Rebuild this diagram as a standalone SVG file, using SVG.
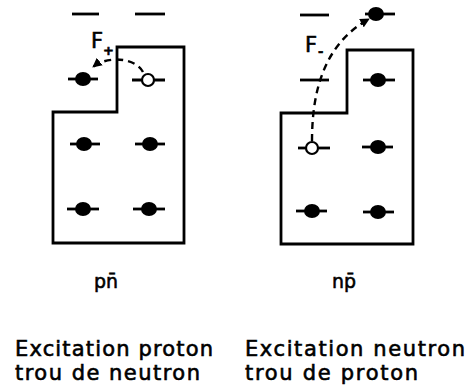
<svg xmlns="http://www.w3.org/2000/svg" width="470" height="392" viewBox="0 0 470 392">
<style>
.box{fill:none;stroke:#000;stroke-width:2.8;stroke-linejoin:miter}
.lvl{stroke:#000;stroke-width:2.8;fill:none}
.full{fill:#000}
.hole{fill:#fff;stroke:#000;stroke-width:2.2}
.dash{fill:none;stroke:#000;stroke-width:2.4;stroke-dasharray:7,5}
text{font-family:"DejaVu Sans","Liberation Sans",sans-serif;fill:#000;stroke:#000;stroke-width:0.6}
.cap{font-size:21px}
.lab{font-size:20px}
.f{font-size:21px}
.sub{font-size:13px;font-weight:bold}
</style>
<defs>
<marker id="ah" viewBox="0 0 10 10" refX="9" refY="5" markerWidth="4" markerHeight="4" orient="auto" markerUnits="strokeWidth">
<path d="M0,0 L10,5 L0,10 Z" fill="#000"/>
</marker>
</defs>

<g id="left-diagram">
<path class="box" d="M53,112 H117 V47 H184 V243 H53 Z"/>
<line class="lvl" x1="72" y1="14" x2="99" y2="14"/>
<line class="lvl" x1="135" y1="14" x2="165" y2="14"/>
<line class="lvl" x1="68" y1="79" x2="98" y2="79"/>
<ellipse class="full" cx="83" cy="79" rx="8" ry="7"/>
<line class="lvl" x1="132" y1="80" x2="165" y2="80"/>
<circle class="hole" cx="148" cy="80" r="6"/>
<line class="lvl" x1="70" y1="144" x2="100" y2="144"/>
<ellipse class="full" cx="84" cy="144" rx="8" ry="7"/>
<line class="lvl" x1="135" y1="144" x2="165" y2="144"/>
<ellipse class="full" cx="150" cy="144" rx="8" ry="7"/>
<line class="lvl" x1="67" y1="209" x2="99" y2="209"/>
<ellipse class="full" cx="83" cy="209" rx="8" ry="7"/>
<line class="lvl" x1="133" y1="209" x2="165" y2="209"/>
<ellipse class="full" cx="149" cy="209" rx="8" ry="7"/>
<text class="f" x="91" y="48">F</text>
<text class="sub" x="103" y="55">+</text>
</g>

<g id="right-diagram">
<path class="box" d="M281,113 H347 V50 H413 V244 H281 Z"/>
<line class="lvl" x1="300" y1="15" x2="329" y2="15"/>
<line class="lvl" x1="365" y1="14" x2="395" y2="14"/>
<ellipse class="full" cx="376" cy="14" rx="8" ry="7"/>
<line class="lvl" x1="300" y1="80" x2="329" y2="80"/>
<line class="lvl" x1="363" y1="80" x2="395" y2="80"/>
<ellipse class="full" cx="378" cy="80" rx="8" ry="7"/>
<line class="lvl" x1="298" y1="148" x2="330" y2="148"/>
<circle class="hole" cx="312" cy="148" r="6"/>
<line class="lvl" x1="362" y1="147" x2="393" y2="147"/>
<ellipse class="full" cx="378" cy="147" rx="8" ry="7"/>
<line class="lvl" x1="296" y1="211" x2="327" y2="211"/>
<ellipse class="full" cx="312" cy="211" rx="8" ry="7"/>
<line class="lvl" x1="363" y1="212" x2="394" y2="212"/>
<ellipse class="full" cx="378" cy="212" rx="8" ry="7"/>
<text class="f" x="305" y="52">F</text>
<text class="sub" x="318" y="56">-</text>
</g>

<g id="connectors">
<path class="dash" d="M143,72 C136,58 108,55 93,67" marker-end="url(#ah)"/>
<path class="dash" d="M312,141 C312,95 322,45 369,19" marker-end="url(#ah)"/>
</g>

<g id="labels">
<text class="lab" x="94" y="288" textLength="24" lengthAdjust="spacingAndGlyphs">pn̄</text>
<text class="lab" x="332" y="288" textLength="24" lengthAdjust="spacingAndGlyphs">np̄</text>
<text class="cap" x="15" y="356" textLength="198" lengthAdjust="spacing">Excitation proton</text>
<text class="cap" x="15" y="380" textLength="185" lengthAdjust="spacing">trou de neutron</text>
<text class="cap" x="245" y="356" textLength="220" lengthAdjust="spacing">Excitation neutron</text>
<text class="cap" x="245" y="380" textLength="173" lengthAdjust="spacing">trou de proton</text>
</g>
</svg>
